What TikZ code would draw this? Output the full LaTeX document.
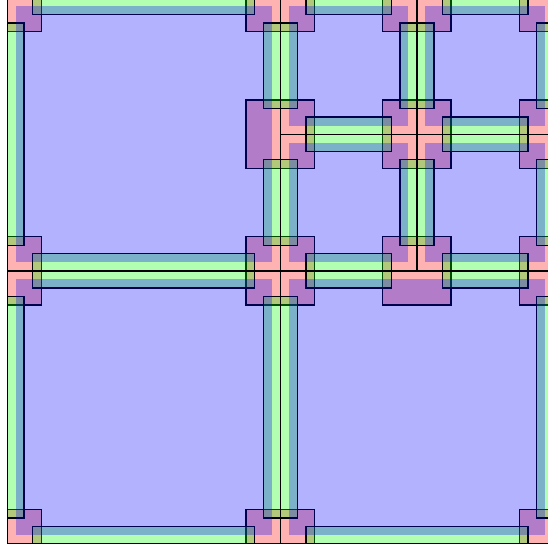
\documentclass[tikz,border=0pt]{standalone}
\begin{document}
\begin{tikzpicture}[x=1pt,y=-1pt,
  vertexsq/.style={fill=red,fill opacity=0.3,draw=black,draw opacity=1,line width=1.3pt},
  edgebar/.style={fill=green,fill opacity=0.3,draw=black,draw opacity=1,line width=1.3pt},
  cellfill/.style={fill=blue,fill opacity=0.3},
  gridline/.style={draw=black,line width=1.2pt}]
\def\xa{7}\def\xb{280.3}\def\xc{416.95}\def\xd{553.6}
\def\ya{-2.6}\def\yb{134.15}\def\yc{270.9}\def\yd{543.7}
\def\hs{34.16}\def\hb{17.08}\def\be{25.62}\def\ins{8.54}
\useasboundingbox (0,0) rectangle (548,550);
\begin{scope}
\clip (\xa,\ya) rectangle (\xd,\yd);
% vertex squares
\foreach \px/\py in {\xa/\ya,\xb/\ya,\xc/\ya,\xd/\ya,\xb/\yb,\xc/\yb,\xd/\yb,\xa/\yc,\xb/\yc,\xc/\yc,\xd/\yc,\xa/\yd,\xb/\yd,\xd/\yd}
  \path[vertexsq] (\px-\hs,\py-\hs) rectangle (\px+\hs,\py+\hs);
% horizontal edge bars
\foreach \pa/\pb/\py in {\xa/\xb/\ya,\xb/\xc/\ya,\xc/\xd/\ya,\xb/\xc/\yb,\xc/\xd/\yb,\xa/\xb/\yc,\xb/\xc/\yc,\xc/\xd/\yc,\xa/\xb/\yd,\xb/\xd/\yd}
  \path[edgebar] (\pa+\be,\py-\hb) rectangle (\pb-\be,\py+\hb);
% vertical edge bars
\foreach \px/\pa/\pb in {\xa/\ya/\yc,\xa/\yc/\yd,\xb/\ya/\yb,\xb/\yb/\yc,\xb/\yc/\yd,\xc/\ya/\yb,\xc/\yb/\yc,\xd/\ya/\yb,\xd/\yb/\yc,\xd/\yc/\yd}
  \path[edgebar] (\px-\hb,\pa+\be) rectangle (\px+\hb,\pb-\be);
% cells
\foreach \pa/\pb/\pc/\pd in {\xa/\ya/\xb/\yc,\xb/\ya/\xc/\yb,\xc/\ya/\xd/\yb,\xb/\yb/\xc/\yc,\xc/\yb/\xd/\yc,\xa/\yc/\xb/\yd,\xb/\yc/\xd/\yd}
  \path[cellfill] (\pa+\ins,\pb+\ins) rectangle (\pc-\ins,\pd-\ins);
% grid lines
\draw[gridline] (\xa,\ya) rectangle (\xd,\yd);
\draw[gridline] (\xb,\ya) -- (\xb,\yd);
\draw[gridline] (\xa,\yc) -- (\xd,\yc);
\draw[gridline] (\xc,\ya) -- (\xc,\yc);
\draw[gridline] (\xb,\yb) -- (\xd,\yb);
\end{scope}
\end{tikzpicture}
\end{document}
